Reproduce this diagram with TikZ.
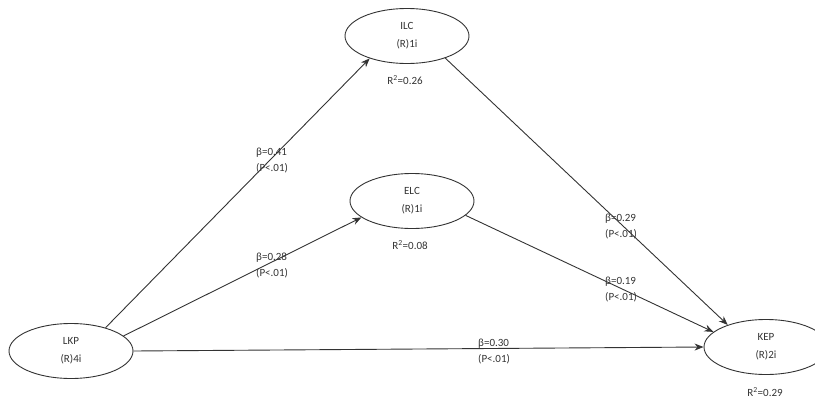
\documentclass[tikz,border=0pt]{standalone}
\usepackage{fontspec}
\setmainfont{Carlito}
\usetikzlibrary{shapes.geometric,arrows.meta}
\definecolor{ink}{HTML}{333333}
\tikzset{
  latent/.style={draw=ink,line width=0.9pt,ellipse,minimum width=124pt,minimum height=55pt,inner sep=0pt,align=center,font=\fontsize{11}{18}\selectfont,text=ink},
  path/.style={draw=ink,line width=0.9pt,-{Stealth[length=9pt,width=7pt]}},
  coef/.style={align=left,anchor=west,font=\fontsize{11}{16}\selectfont,text=ink,inner sep=0pt},
  rsq/.style={font=\fontsize{11}{13}\selectfont,text=ink,inner sep=0pt}
}
\begin{document}
\begin{tikzpicture}[x=1pt,y=1pt]
\clip (0,0) rectangle (815,-400);
\node[latent] (ILC) at (407,-36) {ILC\\(R)1i};
\node[latent] (ELC) at (412,-201) {ELC\\(R)1i};
\node[latent] (LKP) at (71,-351) {LKP\\(R)4i};
\node[latent] (KEP) at (766,-347) {KEP\\(R)2i};
\node[rsq] (rILC) at (405,-80) {R\textsuperscript{2}=0.26};
\node[rsq] (rELC) at (410,-245) {R\textsuperscript{2}=0.08};
\node[rsq] (rKEP) at (765,-392) {R\textsuperscript{2}=0.29};
\draw[path] (LKP.34) -- (ILC.211);
\draw[path] (LKP.16) -- (ELC.198);
\draw[path] (LKP.0) -- (KEP.180);
\draw[path] (ILC.330) -- (KEP.150);
\draw[path] (ELC.345) -- (KEP.164);
\node[coef] (c1) at (256,-161) {β=0.41\\(P<.01)};
\node[coef] (c2) at (256,-265) {β=0.28\\(P<.01)};
\node[coef] (c3) at (605,-227) {β=0.29\\(P<.01)};
\node[coef] (c4) at (605,-290) {β=0.19\\(P<.01)};
\node[coef] (c5) at (478,-352) {β=0.30\\(P<.01)};
\end{tikzpicture}
\end{document}
